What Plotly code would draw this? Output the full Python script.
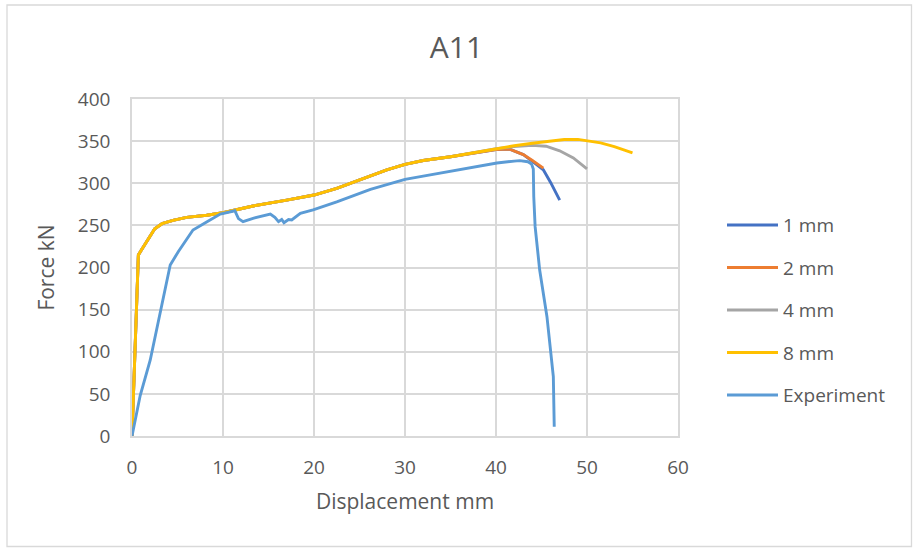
import plotly.graph_objects as go

# Force-displacement curves for specimen A11: FE results for four mesh sizes and the test
x_1mm = [0, 0.35, 0.7, 1.05, 1.6, 2.5, 3.3, 4.5, 6.0, 8.2, 10, 13.3, 17, 20, 22.5, 25, 28, 30, 32, 35, 38, 40,
         41.5, 43, 44, 45.2, 46, 47]
y_1mm = [0, 108, 215, 221, 231, 246, 252, 256, 259.5, 262, 265, 273, 280, 286, 294, 304, 316, 322.5, 327, 331.5, 337, 340,
         340.5, 334, 326, 316, 301, 280]

x_2mm = [0, 0.35, 0.7, 1.05, 1.6, 2.5, 3.3, 4.5, 6.0, 8.2, 10, 13.3, 17, 20, 22.5, 25, 28, 30, 32, 35, 38, 40,
         41.5, 43, 44, 45.2]
y_2mm = [0, 108, 215, 221, 231, 246, 252, 256, 259.5, 262, 265, 273, 280, 286, 294, 304, 316, 322.5, 327, 331.5, 337, 340,
         340.5, 334, 327, 318]

x_4mm = [0, 0.35, 0.7, 1.05, 1.6, 2.5, 3.3, 4.5, 6.0, 8.2, 10, 13.3, 17, 20, 22.5, 25, 28, 30, 32, 35, 38, 40,
         42, 44, 45.5, 47, 48.5, 50]
y_4mm = [0, 108, 215, 221, 231, 246, 252, 256, 259.5, 262, 265, 273, 280, 286, 294, 304, 316, 322.5, 327, 331.5, 337, 341,
         343.5, 345, 344, 338.5, 330, 317]

x_8mm = [0, 0.35, 0.7, 1.05, 1.6, 2.5, 3.3, 4.5, 6.0, 8.2, 10, 13.3, 17, 20, 22.5, 25, 28, 30, 32, 35, 38, 40,
         42, 44, 46, 47.5, 49, 50, 51.5, 53, 54.2, 55]
y_8mm = [0, 108, 215, 221, 231, 246, 252, 256, 259.5, 262, 265, 273, 280, 286, 294, 304, 316, 322.5, 327, 331.5, 337, 341.5,
         344.5, 347.5, 350.5, 352, 352, 350.5, 348, 343.5, 339.5, 336]

x_exp = [0, 0.9, 2.0, 3.0, 4.2, 5.1, 6.7, 8.2, 9.7, 11.3, 11.7, 12.2, 13.3, 15.2, 15.7, 16.1, 16.45, 16.7, 17.2, 17.55,
         18.5, 19.9, 22.5, 26.2, 30, 32, 35, 38, 40.1, 42, 42.6, 43.5, 43.9, 44.1, 44.15, 44.3, 44.8, 45.6, 46.3, 46.4]
y_exp = [0, 48, 90, 141, 203, 219, 244.5, 254, 263.5, 267.4, 258, 254.4, 258.4, 263.5, 259.6, 254.4, 257, 253.2, 257, 256.4,
         264.3, 268.3, 278, 292.8, 304.7, 308.5, 314.5, 320, 324, 326.3, 326.8, 325.5, 323, 317, 284, 248.5, 197, 141.6,
         70.4, 11]

series_names = ["1 mm", "2 mm", "4 mm", "8 mm", "Experiment"]
series_x = [x_1mm, x_2mm, x_4mm, x_8mm, x_exp]
series_y = [y_1mm, y_2mm, y_4mm, y_8mm, y_exp]
series_colors = ["#4472C4", "#ED7D31", "#A5A5A5", "#FFC000", "#5B9BD5"]

x_ticks = [0, 10, 20, 30, 40, 50, 60]
y_ticks = [0, 50, 100, 150, 200, 250, 300, 350, 400]

FONT = "Open Sans"
TEXT = "#595959"
GRID = "#D9D9D9"

W, H = 913, 548
L, R, T, B = 132, 678, 99, 436  # plot-area edges in pixels


def px_to_paper_x(px):
    return (px - L) / (R - L)


def px_to_paper_y(py):
    return (B - py) / (B - T)


fig = go.Figure()
for name, xs, ys, col in zip(series_names, series_x, series_y, series_colors):
    fig.add_trace(go.Scatter(x=xs, y=ys, mode="lines", name=name,
                             line=dict(color=col, width=2.9), showlegend=False))

# Chart-area border
fig.add_shape(type="rect", xref="paper", yref="paper",
              x0=px_to_paper_x(7), x1=px_to_paper_x(911.5),
              y0=px_to_paper_y(546.5), y1=px_to_paper_y(5),
              line=dict(color=GRID, width=1.3), layer="below")

# Legend on the right: swatch line plus label per series
for i, (name, col) in enumerate(zip(series_names, series_colors)):
    row = 225 + 42.5 * i
    fig.add_shape(type="line", xref="paper", yref="paper",
                  x0=px_to_paper_x(727), x1=px_to_paper_x(778),
                  y0=px_to_paper_y(row), y1=px_to_paper_y(row),
                  line=dict(color=col, width=3))
    fig.add_annotation(xref="paper", yref="paper", x=px_to_paper_x(781), y=px_to_paper_y(row),
                       text=name, showarrow=False, xanchor="left", yanchor="middle",
                       font=dict(family=FONT, size=19, color=TEXT))

axis_common = dict(showgrid=True, gridcolor=GRID, gridwidth=1.5, zeroline=False,
                   showline=True, linecolor=GRID, linewidth=1.5, mirror=True,
                   ticks="", tickfont=dict(family=FONT, size=19, color=TEXT))

fig.update_xaxes(range=[0, 60], tickvals=x_ticks, ticklabelstandoff=13,
                 title=dict(text="Displacement mm", standoff=16,
                            font=dict(family=FONT, size=21, color=TEXT)),
                 **axis_common)
fig.update_yaxes(range=[0, 400], tickvals=y_ticks, ticklabelstandoff=16,
                 title=dict(text="Force kN", standoff=18,
                            font=dict(family=FONT, size=21, color=TEXT)),
                 **axis_common)

fig.update_layout(
    width=W, height=H,
    margin=dict(l=L, r=W - R, t=T, b=H - B, autoexpand=False),
    paper_bgcolor="white", plot_bgcolor="white",
    title=dict(text="A11", x=0.5, xanchor="center", y=1 - 47.5 / H, yanchor="middle",
               font=dict(family=FONT, size=30, color=TEXT)),
)

fig.write_html("out.html")
